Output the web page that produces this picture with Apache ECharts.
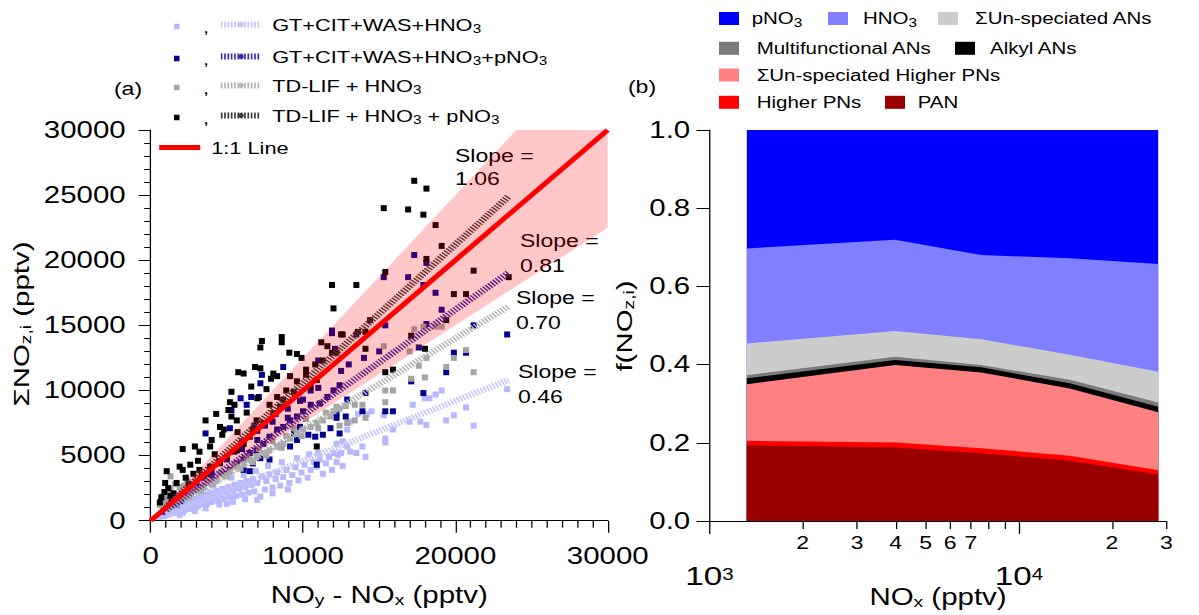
<!DOCTYPE html>
<html>
<head>
<meta charset="utf-8">
<script src="https://cdn.jsdelivr.net/npm/echarts@6/dist/echarts.min.js"></script>
<style>
html,body{margin:0;padding:0;background:#fff;overflow:hidden}
#wrap{width:1199px;height:615px;overflow:hidden;position:relative}
#chart{width:937px;height:615px;transform:scaleX(1.28);transform-origin:0 0;position:absolute;left:0;top:0}
</style>
</head>
<body>
<div id="wrap"><div id="chart"></div></div>
<script>
// ---------------- DATA: panel (a) ----------------
// [NOy - NOx, ΣNOz,i] in pptv
const gtHNO3 = [
 [600,300],[800,500],[900,350],[1000,600],[1100,450],[1200,800],[1300,550],[1400,700],[1500,950],[1600,600],
 [1700,850],[1800,1100],[1900,700],[2000,950],[2100,1250],[2100,600],[2200,800],[2300,1050],[2400,1400],[2500,900],
 [2600,1200],[2700,1550],[2800,1000],[2900,1350],[3000,1700],[3100,1100],[3200,1450],[3300,1850],[3400,1250],[3500,1600],
 [3600,2000],[3700,1300],[3800,1700],[3900,2150],[4000,1450],[4200,1850],[4300,2300],[4400,1550],[4600,2000],[4700,2450],
 [4800,1650],[5000,2150],[5100,2600],[5200,1800],[5400,1450],[5400,2300],[5500,2750],[5600,1900],[5800,2450],[5900,2900],
 [6000,2000],[6200,2600],[6300,3050],[6400,2150],[6600,2750],[6700,3200],[6800,2250],[7000,2900],[7200,1850],[7300,3400],
 [7500,2400],[7600,3050],[7800,3550],[8000,2550],[8200,3200],[8300,3700],[8500,2700],[8700,3350],[8900,3900],[9100,2900],
 [9300,3500],[9500,4100],[9700,3100],[9900,3700],[10100,4300],[10300,3300],[10500,3900],[10700,4500],[10900,4150],[11000,5200],
 [11100,4700],[11300,3600],[11500,4400],[11700,4900],[11900,3900],[12000,5200],[12200,4500],[12300,5050],[12500,5200],[12600,4200],
 [12200,5900],[12600,6100],[12900,5700],[12900,7000],[13100,5300],[13100,7600],[13500,5200],[13600,8200],[13900,5700],[14100,4900],
 [14200,8200],[14500,8400],[15300,8100],[15400,6300],[15400,6000],[15900,7000],[17000,7600],[17200,8900],[17700,7600],[18000,9400],
 [18100,7350],[18300,9400],[18700,9700],[19100,10000],[19400,7700],[19900,8100],[20700,8700],[21200,7300],[23400,10100],
 [1500,1300],[2300,1600],[3100,2300],[4100,2700],[5300,3300],[6100,3500],[6900,3800],[7700,4200],[8600,4500],[9600,4800],
 [10400,5100],[1900,450],[2900,750],[3600,950],[4500,1250],[5000,1300],[6200,1650],[7000,1600],[8000,2100],[9000,2400]
];
const gtHNO3pNO3 = [
 [8700,11800],[7300,11200],[7200,10550],[7100,9500],[6600,9500],[5900,9400],[5300,8500],[5200,7100],[3600,6700],[6300,8900],
 [17300,20400],[18100,19800],[15300,18700],[16900,18700],[17900,18100],[18700,17500],[19100,16200],[15400,15000],[18100,15100],[11900,14400],
 [13500,14300],[17600,13300],[12100,13200],[11000,12300],[11900,14600],[12400,10400],[12000,10000],[11600,9500],[11100,9000],[10500,8900],
 [10000,8400],[9600,8000],[9150,7700],[8700,7200],[9800,7200],[9400,6700],[8300,7000],[7800,6450],[7400,5900],[6950,5400],
 [6500,5200],[6100,4700],[5650,4400],[5200,3900],[4800,3600],[4300,3100],[3900,2900],[3450,2600],[3000,2400],[2600,2100],
 [23400,14300],[21200,15000],[19900,12900],[20700,12900],[19400,11400],[17100,10700],[17900,9800],[15400,8400],[15900,8400],[13900,8400],
 [12200,7900],[12800,8000],[11800,7100],[12400,6700],[14100,9800],[12900,9300],[12200,8250],[11300,6600],[10800,6450],[10350,6600],
 [9600,6200],[9150,5700],[8500,5700],[7800,4700],[7200,4800],[6700,4400],[6500,3800],[6100,3900],[10900,4300],
 [1000,900],[1500,1300],[2000,1500],[1200,1600],[800,700],[2200,1900],[1700,1200],
 [10500,10000],[9800,9200],[9000,8600],[8200,8200],[7500,7300],[7000,6900],[6000,6100],[5500,5300],[4500,4600],[4000,3800],
 [3500,3300],[13000,12000],[14000,12500],[15000,13000],[12500,11500],
 [8000,7600],[7000,6200],[6000,5500],[5000,4700],[4000,3500],[3000,2900],[9000,7900],[10000,9300],[11000,10200],[6800,7300]
];
const tdHNO3 = [
 [12200,8750],[11800,8000],[11300,7700],[10900,7500],[10500,7200],[10000,7000],[9600,6700],[9150,6300],[8700,5900],[8300,5700],
 [7800,5400],[7400,5200],[6950,4900],[6500,4700],[6100,4400],[5650,4150],[5200,3800],[4800,3500],[4300,3100],[3900,2900],
 [3450,2600],[3000,2400],[2600,2100],[2100,1850],[1700,1600],[1300,2400],[800,1850],[1300,3400],[1900,2600],[2400,3100],
 [20700,13100],[19900,12500],[18100,12500],[17600,11900],[19400,11800],[21200,11400],[18000,11000],[17100,10900],[15400,10000],[15900,10000],
 [15400,9100],[13400,8900],[13900,8900],[14100,7900],[13400,7700],[12000,8400],[12400,8600],[12800,8800],[12400,7300],[12900,7500],
 [17300,14700],[17900,14900],[18700,14900],[19100,14900],[15300,13400],[17000,13000],
 [11500,8300],[10200,7800],[9400,7100],[8900,6500],[8000,6100],[7100,5500],[6300,4900],[5500,4300],[4600,3700],[3700,3000],
 [2800,2500],[2000,2100],[1500,1900],[1000,1500],[600,1200],[1100,2000],[700,1600],[1600,2800],[2200,2700],[3000,3100],
 [11000,7100],[9900,6500],[8600,5600],[7600,5000],[6700,4500],[5900,4000],[5000,3400],[4100,2800],[3300,2300],[2500,1800]
];
const tdHNO3pNO3 = [
 [17300,26100],[18100,25500],[15300,24000],[16900,23900],[17900,23500],[11900,18100],[13500,18100],[12000,16300],[18000,13200],[8600,14100],
 [8600,13700],[7300,13800],[7200,13300],[9100,12900],[9600,12800],[9900,12500],[5750,11400],[6100,11300],[6850,11800],[7200,11700],
 [8050,11300],[8300,11100],[7900,10900],[6600,10300],[5300,9900],[5200,9100],[5500,8900],[5100,8500],[4300,8200],[3600,7700],
 [4550,7200],[4800,7000],[5300,8000],[5650,7700],[2900,5700],[2100,5500],[3200,5300],[3900,5700],[1900,4150],[2100,3900],
 [2800,3600],[1050,3800],[950,2900],[1150,2500],[1500,2100],[10900,5700],[15400,11400],[15900,11600],
 [18700,22700],[19100,21100],[18100,20100],[15400,19100],[21200,19200],[19900,17400],[20700,17400],[23500,18700],[19400,15400],[14400,15400],
 [12600,14300],[13600,14500],[14100,14500],[17100,14200],[14100,13200],[12200,12900],[11200,13700],[11600,13400],[12500,14300],[11900,12900],
 [11300,12300],[10800,12000],[10200,11600],[9150,11100],[9600,10700],[8900,10000],[9400,9900],[8700,9300],[8300,9500],[7800,8900],
 [8500,8750],[8050,8250],[10900,10800],[10500,10300],[10200,11200],[7400,7500],[6700,7000],[6950,7700],[6500,6450],[6100,5900],
 [5650,5400],[5000,4900],[4550,4400],[3900,4150],[3700,3600],[3350,3400],
 [700,1800],[900,2200],[1300,1900],[600,1400],[1700,2900],[2300,3300],[2600,4300],
 [3100,4600],[4000,6200],[4700,6600],[6300,8300],[7000,9400],[7600,10100],[2500,2800],[3200,3900],[4200,5100],[5700,6800]
];
// least-squares fit lines (end points, pptv)
const fitGT = [[1000,460],[23500,10810]];
const fitGTp = [[1000,810],[23500,19040]];
const fitTD = [[1000,700],[23500,16450]];
const fitTDp = [[1000,1060],[23500,24910]];
const oneToOne = [[0,0],[30000,30000]];
// ±25 % envelope around the 1:1 line (polygon corners, pptv)
const bandPoly = [[0,0],[30000,37500],[30000,22500]];
const slopeLabels = ['1.06','0.81','0.70','0.46'];

// ---------------- DATA: panel (b) ----------------
const noxBins = [1320, 3980, 7550, 14600, 28200]; // pptv
const fPAN            = [0.194, 0.188, 0.173, 0.154, 0.119];
const fHigherPNs      = [0.011, 0.013, 0.013, 0.013, 0.011];
const fUnspecHigherPN = [0.145, 0.198, 0.194, 0.172, 0.148];
const fAlkylANs       = [0.015, 0.013, 0.013, 0.013, 0.014];
const fMultiANs       = [0.008, 0.008, 0.006, 0.009, 0.011];
const fUnspecANs      = [0.081, 0.066, 0.066, 0.064, 0.079];
const fHNO3           = [0.243, 0.233, 0.215, 0.247, 0.275];
const fpNO3           = [0.303, 0.281, 0.320, 0.328, 0.343];
const logMinorTicks = [2000,3000,4000,5000,6000,7000,8000,9000,20000,30000];
const logMinorLabelVals = [2000,3000,4000,5000,6000,7000,20000,30000];
const logMinorLabelText = ['2','3','4','5','6','7','2','3'];
const logDecades = [1000,10000];
const logDecadeExp = ['3','4'];

// ---------------- LAYOUT ----------------
const S = 1.28;                 // horizontal stretch of the page
const X = v => v / S;           // real px -> layout px (horizontal)
const F = 'Liberation Sans, Arial, Helvetica, sans-serif';
const subRich = {s:{fontSize:12, fontFamily:F, color:'#000', padding:[9,0,0,0]}};

const obsNames = ['GT+CIT+WAS+HNO3 obs','GT+CIT+WAS+HNO3+pNO3 obs','TD-LIF + HNO3 obs','TD-LIF + HNO3 + pNO3 obs'];
const fitNames = ['GT+CIT+WAS+HNO3','GT+CIT+WAS+HNO3+pNO3','TD-LIF + HNO3','TD-LIF + HNO3 + pNO3'];
const fitRich  = ['GT+CIT+WAS+HNO{s|3}','GT+CIT+WAS+HNO{s|3}+pNO{s|3}','TD-LIF + HNO{s|3}','TD-LIF + HNO{s|3} + pNO{s|3}'];
const obsData = [gtHNO3, gtHNO3pNO3, tdHNO3, tdHNO3pNO3];
const fitData = [fitGT, fitGTp, fitTD, fitTDp];
const obsColor = ['#b8b8ff','#00008c','#a4a4a4','#000000'];
const fitColor = ['#c4c4ff','#3a2aa8','#b4b4b4','#3a3a3a'];
const legRowY = [27, 59, 88, 118, 148];

const stackNames = ['PAN','Higher PNs','ΣUn-speciated Higher PNs','Alkyl ANs','Multifunctional ANs','ΣUn-speciated ANs','HNO3','pNO3'];
const stackData = [fPAN,fHigherPNs,fUnspecHigherPN,fAlkylANs,fMultiANs,fUnspecANs,fHNO3,fpNO3];
const stackColor = ['#990000','#ff0000','#ff8080','#000000','#7a7a7a','#cccccc','#8080ff','#0000ff'];
const stackRich = {'HNO3':'HNO{s|3}','pNO3':'pNO{s|3}'};
// [name, icon left, text left, centre y] in real px
const rightLegend = [
 ['pNO3',719,751.7,18.5],['HNO3',828,863,18.5],['ΣUn-speciated ANs',938,975,18.5],
 ['Multifunctional ANs',719,756.7,48.3],['Alkyl ANs',955,990,48.3],
 ['ΣUn-speciated Higher PNs',719,756.7,75],
 ['Higher PNs',719,756.7,102.3],['PAN',885,917.7,102.3]
];

const series = [];
obsData.forEach((d,i)=>series.push({
  type:'scatter', name:obsNames[i], data:d, xAxisIndex:0, yAxisIndex:0,
  symbol:'rect', symbolSize:[X(6),6], itemStyle:{color:obsColor[i], opacity:1},
  z:2, silent:true, animation:false
}));
fitData.forEach((d,i)=>series.push({
  type:'line', name:fitNames[i], data:d, xAxisIndex:0, yAxisIndex:0, symbol:'none',
  lineStyle:{color:fitColor[i], width:6, type:[1.3,1.3], cap:'butt'}, itemStyle:{color:fitColor[i]},
  z:3, silent:true, animation:false
}));
series.push({type:'custom', name:'band', xAxisIndex:0, yAxisIndex:0, data:[bandPoly[0]], clip:true,
  z:4, silent:true, animation:false,
  renderItem:(params, api)=>({type:'polygon', shape:{points:bandPoly.map(p=>api.coord(p))},
    style:{fill:'rgba(255,0,0,0.22)'}})});
series.push({type:'line', name:'1:1 Line', data:oneToOne, xAxisIndex:0, yAxisIndex:0, symbol:'none',
  lineStyle:{color:'#ff0000', width:4.5}, itemStyle:{color:'#ff0000'}, z:5, silent:true, animation:false});

// panel (b): cumulative layer tops, painted from the top layer downward
const cumTops = [];
stackData.forEach((d,i)=>cumTops.push(d.map((v,j)=>(i? cumTops[i-1][j] : 0) + v)));
for (let i = stackData.length-1; i >= 0; i--) {
  series.push({
    type:'line', name:stackNames[i], data:cumTops[i].map((v,j)=>[noxBins[j], v]),
    xAxisIndex:1, yAxisIndex:1, symbol:'none', lineStyle:{width:0, opacity:0},
    areaStyle:{color:stackColor[i], opacity:1, origin:'start'},
    itemStyle:{color:stackColor[i]}, color:stackColor[i], silent:true, animation:false
  });
}

const legends = [];
for (let i=0;i<4;i++){
  legends.push({data:[obsNames[i]], left:X(174), top:legRowY[i]-9, padding:0, selectedMode:false,
    icon:'rect', itemWidth:X(5.5), itemHeight:5.5, formatter:()=>',',
    textStyle:{fontSize:17, fontFamily:F, color:'#000', padding:[0,0,0,X(203-179.5)-5]}});
  legends.push({data:[fitNames[i]], left:X(217), top:legRowY[i]-11, padding:0, selectedMode:false,
    itemWidth:X(40), itemHeight:6, formatter:n=>fitRich[fitNames.indexOf(n)],
    lineStyle:{width:6, type:[1.3,1.3], cap:'butt'},
    textStyle:{fontSize:17, fontFamily:F, color:'#000', rich:subRich, padding:[0,0,0,X(268.3-257)-5]}});
}
legends.push({data:['1:1 Line'], left:X(156), top:legRowY[4]-9, padding:0, selectedMode:false,
  itemWidth:X(41), itemHeight:5, lineStyle:{width:5},
  textStyle:{fontSize:17, fontFamily:F, color:'#000', padding:[0,0,0,X(208-197)-5]}});
rightLegend.forEach(r=>legends.push({data:[r[0]], left:X(r[1]), top:r[3]-8, padding:0, selectedMode:false,
  icon:'rect', itemWidth:X(20), itemHeight:13,
  formatter:n=>stackRich[n]||n,
  textStyle:{fontSize:16, fontFamily:F, color:'#000', rich:subRich, padding:[0,0,0,X(r[2]-r[1]-20)-5]}}));

const graphics = [
  {type:'text', x:X(128), y:88, style:{text:'(a)', fontSize:18, fontFamily:F, fill:'#000', textAlign:'center', textVerticalAlign:'middle'}},
  {type:'text', x:X(642), y:86.5, style:{text:'(b)', fontSize:18, fontFamily:F, fill:'#000', textAlign:'center', textVerticalAlign:'middle'}},
  {type:'text', x:X(21), y:324, rotation:Math.PI/2, scaleX:S, scaleY:1/S,
   style:{text:'ΣNO{s|z,i} (pptv)', fontSize:23, fontFamily:F, fill:'#000', textAlign:'center', textVerticalAlign:'middle',
          rich:{s:{fontSize:15, fontFamily:F, fill:'#000', padding:[10,0,0,0]}}}},
  {type:'text', x:X(623.7), y:326, rotation:Math.PI/2, scaleX:S, scaleY:1/S,
   style:{text:'f(NO{s|z,i})', fontSize:23, fontFamily:F, fill:'#000', textAlign:'center', textVerticalAlign:'middle',
          rich:{s:{fontSize:15, fontFamily:F, fill:'#000', padding:[10,0,0,0]}}}}
];
const slopePos = [[455,155,178],[520,240,265],[516,297,322],[518,371,396]];
slopePos.forEach((p,i)=>{
  graphics.push({type:'text', x:X(p[0]), y:p[1], style:{text:'Slope =', fontSize:18, fontFamily:F, fill:'#000', textAlign:'left', textVerticalAlign:'middle'}});
  graphics.push({type:'text', x:X(p[0]), y:p[2], style:{text:slopeLabels[i], fontSize:18, fontFamily:F, fill:'#000', textAlign:'left', textVerticalAlign:'middle'}});
});

const axLine = {show:true, lineStyle:{color:'#000', width:1}};
const plain = v => String(v);
const option = {
  animation:false,
  backgroundColor:'#fff',
  textStyle:{fontFamily:F},
  grid:[
    {left:X(150.7), top:130, width:X(607.7-150.7), height:390.7, outerBoundsMode:'none', containLabel:false},
    {left:X(709.5), top:130, width:X(1166.5-709.5), height:391, outerBoundsMode:'none', containLabel:false}
  ],
  xAxis:[
    {type:'value', gridIndex:0, position:'bottom', min:0, max:30000, interval:10000,
     axisLine:axLine, axisTick:{show:true, inside:false, length:12, lineStyle:{color:'#000'}},
     minorTick:{show:true, splitNumber:10, length:7, lineStyle:{color:'#000'}},
     splitLine:{show:false}, minorSplitLine:{show:false},
     axisLabel:{fontSize:23, fontFamily:F, color:'#000', margin:24, formatter:plain},
     name:'NO{s|y} - NO{s|x} (pptv)', nameLocation:'middle', nameGap:62, nameMoveOverlap:false,
     nameTextStyle:{fontSize:23, fontFamily:F, color:'#000', rich:{s:{fontSize:15, fontFamily:F, color:'#000', padding:[10,0,0,0]}}}},
    {type:'log', logBase:10, gridIndex:1, position:'bottom', min:1000, max:30000,
     axisLine:axLine,
     axisTick:{show:true, length:8, customValues:logMinorTicks, lineStyle:{color:'#000'}},
     axisLabel:{customValues:logMinorLabelVals, formatter:v=>logMinorLabelText[logMinorLabelVals.indexOf(v)] || '',
                fontSize:18, fontFamily:F, color:'#000', margin:12},
     splitLine:{show:false}},
    {type:'log', logBase:10, gridIndex:1, position:'bottom', offset:0, min:1000, max:30000,
     axisLine:{show:false},
     axisTick:{show:true, length:13, customValues:logDecades, lineStyle:{color:'#000'}},
     axisLabel:{customValues:logDecades, formatter:v=>'10{p|'+logDecadeExp[logDecades.indexOf(v)]+'}',
                fontSize:26, lineHeight:20, fontFamily:F, color:'#000', margin:45,
                rich:{p:{fontSize:16, lineHeight:14, fontFamily:F, color:'#000', verticalAlign:'top', padding:[0,0,6,0]}}},
     splitLine:{show:false},
     name:'NO{s|x} (pptv)', nameLocation:'middle', nameGap:65, nameMoveOverlap:false,
     nameTextStyle:{fontSize:23, fontFamily:F, color:'#000', rich:{s:{fontSize:15, fontFamily:F, color:'#000', padding:[8,0,0,0]}}}}
  ],
  yAxis:[
    {type:'value', gridIndex:0, min:0, max:30000, interval:5000,
     axisLine:axLine, axisTick:{show:true, length:X(12), lineStyle:{color:'#000'}},
     minorTick:{show:true, splitNumber:5, length:X(6.5), lineStyle:{color:'#000'}},
     splitLine:{show:false}, minorSplitLine:{show:false},
     axisLabel:{fontSize:23, fontFamily:F, color:'#000', margin:X(25), formatter:plain}},
    {type:'value', gridIndex:1, min:0, max:1, interval:0.2,
     axisLine:axLine, axisTick:{show:true, length:X(13), lineStyle:{color:'#000'}},
     splitLine:{show:false},
     axisLabel:{fontSize:23, fontFamily:F, color:'#000', margin:X(19.3), formatter:v=>v.toFixed(1)}}
  ],
  legend:legends,
  graphic:graphics,
  series:series
};
const chart = echarts.init(document.getElementById('chart'), null, {renderer:'svg'});
chart.setOption(option);
</script>
</body>
</html>
